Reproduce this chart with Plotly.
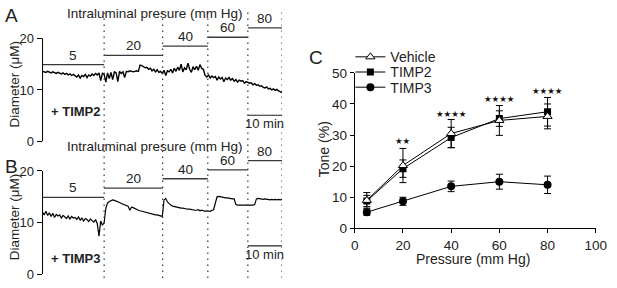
import numpy as np
import plotly.graph_objects as go

W, H = 617, 288
def px_x(p): return p / W
def px_y(p): return (H - p) / H

# ---------------- data: panels A and B (diameter traces, 0.5 min sampling) -------------
time_min = np.arange(0, 70.01, 0.5)

diam_timp2 = [
    13.6, 13.5, 13.4, 13.6, 13.5, 13.3, 13.5, 13.4, 13.2, 13.4,
    13.3, 13.1, 13.3, 13.0, 13.2, 12.9, 13.1, 12.8, 13.0, 12.7,
    12.5, 12.9, 12.3, 12.8, 12.6, 13.0, 12.4, 12.9, 12.7, 13.1,
    12.8, 13.2, 12.9, 13.3, 11.8, 13.2, 13.0, 11.5, 13.3, 12.2,
    13.4, 12.0, 13.5, 13.3, 11.6, 13.6, 13.2, 13.5, 12.4, 13.6,
    13.5, 13.7, 13.6, 13.5, 13.6, 13.7, 13.6, 14.8, 14.7, 14.5,
    14.3, 14.4, 14.0, 14.2, 13.7, 14.0, 13.5, 13.9, 13.4, 13.6,
    13.2, 13.8, 12.8, 13.7, 13.5, 14.0, 13.3, 14.2, 13.6, 14.4,
    13.8, 15.0, 13.5, 14.3, 13.9, 15.2, 14.0, 13.4, 14.5, 13.9,
    14.6, 13.8, 14.9, 14.2, 14.0, 12.8, 12.5, 12.9, 12.3, 12.7,
    12.4, 12.6, 11.9, 12.5, 12.1, 12.4, 11.6, 12.3, 12.0, 12.4,
    11.9, 12.2, 11.7, 12.0, 11.5, 11.9, 11.7, 11.8, 11.3, 11.6,
    11.5, 11.3, 11.4, 11.0, 11.2, 10.9, 11.0, 10.7, 10.8, 10.5,
    10.4, 10.6, 10.2, 10.3, 10.0, 10.2, 9.9, 10.1, 9.8, 9.6, 9.5,
]

diam_timp3 = [
    12.0, 11.5, 12.2, 11.4, 11.9, 11.2, 11.8, 11.0, 11.6, 11.3,
    11.5, 10.9, 11.4, 11.1, 10.8, 11.3, 10.7, 11.2, 10.9, 11.0,
    10.6, 11.1, 10.5, 10.9, 10.3, 10.8, 10.6, 10.2, 10.7, 10.4,
    10.1, 10.6, 9.8, 7.4, 10.3, 9.5, 10.0, 12.8, 13.8, 14.1,
    14.3, 14.4, 14.3, 14.2, 14.0, 13.9, 13.7, 13.6, 13.5, 13.3,
    13.2, 12.4, 13.0, 12.9, 12.7, 12.6, 12.4, 12.3, 12.2, 12.1,
    12.0, 11.9, 11.8, 11.8, 11.7, 11.6, 11.5, 11.5, 11.4, 11.3,
    11.2, 14.4, 14.7, 14.0, 13.6, 13.4, 13.2, 13.1, 13.0, 12.9,
    12.9, 12.8, 12.8, 12.7, 12.7, 12.6, 12.6, 12.5, 12.5, 12.4,
    12.4, 12.5, 12.3, 12.4, 12.3, 12.2, 12.3, 12.3, 12.2, 12.4,
    12.5, 13.8, 15.0, 15.1, 15.0, 14.9, 14.9, 14.8, 14.8, 14.7,
    14.7, 14.6, 14.6, 13.5, 13.4, 13.4, 13.3, 13.4, 13.4, 13.3,
    13.4, 13.3, 13.4, 13.4, 13.5, 14.6, 14.7, 14.6, 14.6, 14.5,
    14.6, 14.5, 14.5, 14.4, 14.5, 14.4, 14.5, 14.4, 14.5, 14.4, 14.5,
]

step_labels = ["5", "20", "40", "60", "80"]
step_bounds_min = [0, 18, 35.1, 48.3, 60, 70]
step_line_level = [14.9, 16.7, 18.5, 20.2, 22.0]   # height of the step bars (axis units)

# ---------------- data: panel C ----------------
pressure = [5, 20, 40, 60, 80]
vehicle = [9.0, 20.2, 30.5, 34.7, 36.0]
vehicle_err = [2.5, 5.5, 4.5, 4.8, 4.0]
timp2 = [8.8, 19.2, 29.2, 35.3, 37.5]
timp2_err = [1.8, 2.8, 3.3, 2.5, 4.6]
timp3 = [5.2, 8.7, 13.5, 15.0, 14.0]
timp3_err = [1.0, 1.3, 1.7, 2.4, 2.8]
sig_labels = ["★★", "★★★★", "★★★★", "★★★★"]
sig_x = [20, 40, 60, 80]
sig_y = [28.2, 36.9, 41.5, 44.3]

FONT = "Liberation Sans, Arial, sans-serif"
fig = go.Figure()

# traces A and B
fig.add_trace(go.Scatter(x=time_min, y=diam_timp2, mode="lines", line=dict(color="black", width=1.4),
                         xaxis="x", yaxis="y", showlegend=False))
fig.add_trace(go.Scatter(x=time_min, y=diam_timp3, mode="lines", line=dict(color="black", width=1.2),
                         xaxis="x2", yaxis="y2", showlegend=False))

# step bars
for xa, ya in (("x", "y"), ("x2", "y2")):
    for i in range(5):
        fig.add_trace(go.Scatter(x=[step_bounds_min[i], step_bounds_min[i + 1]],
                                 y=[step_line_level[i], step_line_level[i]], mode="lines",
                                 line=dict(color="#3a3a3a", width=1.3), xaxis=xa, yaxis=ya,
                                 showlegend=False, hoverinfo="skip"))
        fig.add_annotation(x=(step_bounds_min[i] + step_bounds_min[i + 1]) / 2, y=step_line_level[i],
                           xref=xa, yref=ya, text=step_labels[i], showarrow=False,
                           xanchor="center", yanchor="bottom", yshift=0,
                           font=dict(size=13.5, family=FONT, color="#222"))
    # scale bar 10 min
    lvl = 5.1 if xa == "x" else 5.5
    fig.add_trace(go.Scatter(x=[60, 70], y=[lvl, lvl], mode="lines", line=dict(color="#222", width=1.2),
                             xaxis=xa, yaxis=ya, showlegend=False, hoverinfo="skip"))
    fig.add_annotation(x=65, y=lvl, xref=xa, yref=ya, text="10 min", showarrow=False,
                       xanchor="center", yanchor="top", yshift=1,
                       font=dict(size=13, family=FONT, color="#222"))

# panel C
err_style = dict(type="data", color="black", thickness=1, width=3.5, visible=True)
fig.add_trace(go.Scatter(x=pressure, y=timp3, name="TIMP3", mode="lines+markers",
                         line=dict(color="black", width=1),
                         marker=dict(symbol="circle", size=8, color="black"),
                         error_y=dict(array=timp3_err, **err_style), xaxis="x3", yaxis="y3",
                         legend="legend3"))
fig.add_trace(go.Scatter(x=pressure, y=timp2, name="TIMP2", mode="lines+markers",
                         line=dict(color="black", width=1),
                         marker=dict(symbol="square", size=7, color="black"),
                         error_y=dict(array=timp2_err, **err_style), xaxis="x3", yaxis="y3",
                         legend="legend2"))
fig.add_trace(go.Scatter(x=pressure, y=vehicle, name="Vehicle", mode="lines+markers",
                         line=dict(color="black", width=1),
                         marker=dict(symbol="triangle-up", size=8, color="white",
                                     line=dict(color="black", width=1)),
                         error_y=dict(array=vehicle_err, **err_style), xaxis="x3", yaxis="y3",
                         legend="legend"))
for t, x, y in zip(sig_labels, sig_x, sig_y):
    fig.add_annotation(x=x, y=y, xref="x3", yref="y3", text=t, showarrow=False,
                       xanchor="center", yanchor="middle",
                       font=dict(size=8.5, family="DejaVu Sans", color="#111"))

# layout
hidden_x = dict(range=[0, 70], visible=False, domain=[px_x(39.5), px_x(285)])
ydiam = dict(tickvals=[0, 10, 20], ticks="outside", ticklen=5, tickcolor="black",
             showgrid=False, zeroline=False, showline=False,
             tickfont=dict(size=13, family=FONT, color="#222"))
leg = dict(x=px_x(355), xanchor="left", yanchor="middle", bgcolor="rgba(0,0,0,0)",
           font=dict(size=14, family=FONT, color="#222"))
fig.update_layout(
    width=W, height=H, margin=dict(l=0, r=0, t=0, b=0),
    paper_bgcolor="white", plot_bgcolor="rgba(0,0,0,0)",
    font=dict(family=FONT, color="#222"),
    xaxis=dict(hidden_x, anchor="y"),
    yaxis=dict(ydiam, domain=[px_y(142), 1], range=[0, 142 / 5.45], anchor="x"),
    xaxis2=dict(hidden_x, anchor="y2"),
    yaxis2=dict(ydiam, domain=[px_y(282), px_y(145)], range=[0, 137 / 5.45], anchor="x2"),
    xaxis3=dict(domain=[px_x(359.5), px_x(606.5)], range=[0, 100], anchor="y3",
                tickvals=[0, 20, 40, 60, 80, 100], ticks="outside", ticklen=4,
                ticklabeloverflow="allow",
                showline=True, linecolor="black", linewidth=1, tickcolor="black",
                showgrid=False, zeroline=False, tickfont=dict(size=13.5, family=FONT, color="#222")),
    yaxis3=dict(domain=[px_y(233.5), px_y(69.5)], range=[0, 50], anchor="x3",
                tickvals=[0, 10, 20, 30, 40, 50], ticks="outside", ticklen=4,
                showline=True, linecolor="black", linewidth=1, tickcolor="black",
                showgrid=False, zeroline=False, tickfont=dict(size=13.5, family=FONT, color="#222")),
    legend=dict(leg, y=px_y(53)),
    legend2=dict(leg, y=px_y(69)),
    legend3=dict(leg, y=px_y(85)),
)

# y axis lines for A, B (0..20)
for ya in ("y", "y2"):
    fig.add_shape(type="line", xref="paper", yref=ya, x0=px_x(39.5), x1=px_x(39.5), y0=0, y1=20,
                  line=dict(color="black", width=1))
# dotted separators
for xv in step_bounds_min[1:]:
    fig.add_shape(type="line", xref="x", yref="paper", x0=xv, x1=xv, y0=px_y(286), y1=px_y(2),
                  line=dict(color="#333", width=1.2, dash="1.5px,4.5px"))

# text annotations
def ann(text, x, y, size, **kw):
    fig.add_annotation(text=text, x=px_x(x), y=px_y(y), xref="paper", yref="paper",
                       xanchor="center", yanchor="middle",
                       showarrow=False, font=dict(size=size, family=FONT, color=kw.pop("color", "#222")),
                       **kw)
ann("A", 8, 9, 19)
ann("B", 8, 168, 19)
ann("C", 320, 53, 19)
ann("Intraluminal presure (mm Hg)", 155, 7, 13.5)
ann("Intraluminal presure (mm Hg)", 155, 147, 13.5)
ann("Diameter (μM)", 11, 81, 13.5, textangle=-90)
ann("Diameter (μM)", 11, 221, 13.5, textangle=-90)
ann("<b>+ TIMP2</b>", 74, 110, 13)
ann("<b>+ TIMP3</b>", 74, 265, 13)
ann("Tone (%)", 328, 150, 14, textangle=-90)
ann("Pressure (mm Hg)", 481, 266, 14)

fig.write_html("out.html", config={"displayModeBar": False},
               post_script="document.body.style.margin='0';document.body.style.padding='0';")
